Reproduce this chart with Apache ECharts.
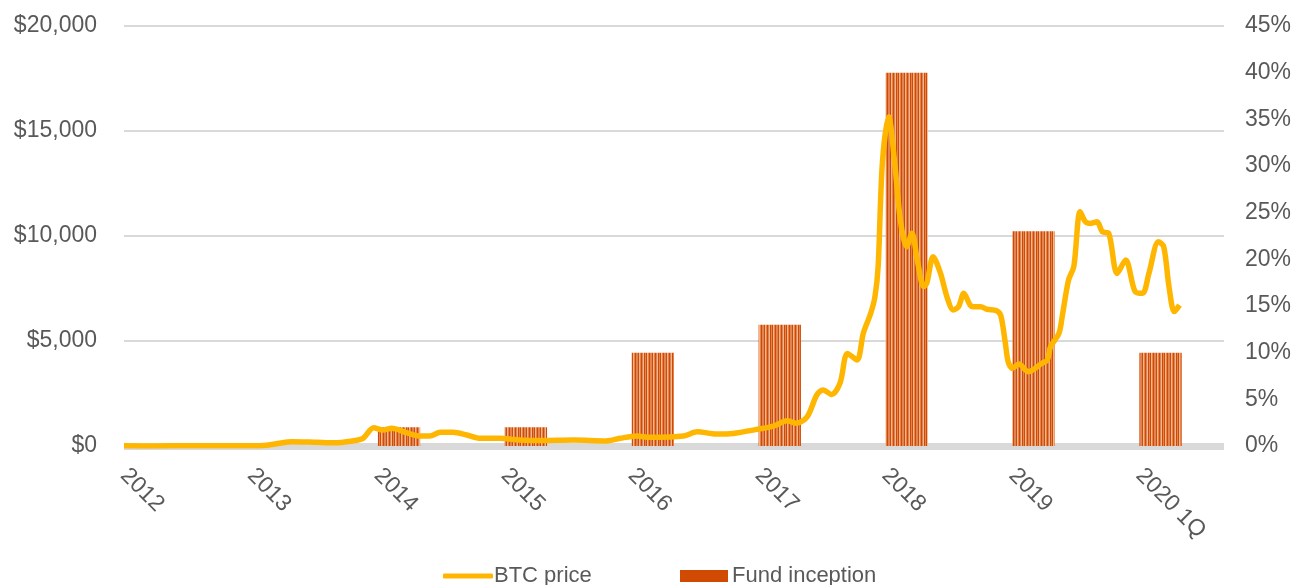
<!DOCTYPE html>
<html>
<head>
<meta charset="utf-8">
<script src="https://cdn.jsdelivr.net/npm/echarts@6/dist/echarts.min.js"></script>
<style>
html,body{margin:0;padding:0;background:#fff;}
#chart{width:1296px;height:585px;}
</style>
</head>
<body>
<div id="chart"></div>
<script>
// ---- data ----
// x labels (one per year tick)
var yearLabels = ['2012','2013','2014','2015','2016','2017','2018','2019','2020 1Q'];
// fund inception share (% of funds), one per year
var fundYears = [2012,2013,2014,2015,2016,2017,2018,2019,2020];
var fundShare = [0,0,2,2,10,13,40,23,10];
// BTC price: months since Jan 2012, price in USD
var btcMonth = [0,3,6,9,12,13.5,14.7,15.8,18.2,19.8,21.6,22.6,23.6,24.5,25.3,26.7,28,28.9,29.9,31.1,32.4,33.7,35.5,37.4,39.5,42.5,45.6,46.9,48.5,49.7,52.9,54.2,56,57.6,59.8,61.4,62.7,63.6,64.6,65.5,66.1,66.9,67.7,68.4,69.3,69.9,70.6,71,71.3,71.7,72.3,72.9,73.4,74,74.5,75,75.6,75.9,76.5,77.2,77.8,78.4,78.9,79.4,80,80.3,81,81.6,82.5,82.9,83.3,83.6,84,84.6,85.5,86.8,87.3,87.6,88.4,88.7,89.3,89.8,90.4,90.9,91.4,92,92.5,93.1,93.9,94.7,95.6,96.3,96.9,97.8,98.3,98.8,99.3,99.8];
var btcPrice = [6,5,10,12,14,40,130,205,175,150,240,365,870,760,840,635,475,475,650,650,525,365,365,285,260,285,240,365,475,415,475,680,570,600,790,950,1200,1080,1400,2430,2670,2450,3000,4410,4100,5370,6320,7110,8540,13460,15680,13300,10760,9490,10130,8860,7590,7750,9010,8220,7110,6480,6630,7270,6710,6630,6630,6510,6440,6200,5000,4000,3700,3900,3540,3940,4100,4730,5370,6160,7900,8540,11160,10680,10600,10680,10200,10130,8220,8860,7350,7270,8220,9730,9490,7590,6400,6710];

// ---- build ----
var lineData = btcMonth.map(function(m,i){ return [m, btcPrice[i]]; });
var barData = fundYears.map(function(y,i){ return [(y-2012)*12, fundShare[i]]; });

// striped fill pattern
var pc = document.createElement('canvas');
pc.width = 14; pc.height = 4;
var pctx = pc.getContext('2d');
var stripe = ['d','b','d','p','b','d','b','b','d','p','b','d','b','p'];
var stripeCol = {d:'#cf4a02', b:'#e3834f', p:'#f1b791'};
for (var i=0;i<stripe.length;i++){ pctx.fillStyle = stripeCol[stripe[i]]; pctx.fillRect(i,0,1,4); }
var pattern = {image: pc, repeat: 'repeat'};

var FONT = "'Liberation Sans', Arial, sans-serif";
var TXT = '#595959';

var chart = echarts.init(document.getElementById('chart'), null, {renderer:'canvas'});
chart.setOption({
  animation: false,
  backgroundColor: '#fff',
  textStyle: {fontFamily: FONT},
  grid: {left: 124, right: 72, top: 26, bottom: 139, containLabel: false},
  legend: [
    {left: 438, top: 560, itemWidth: 50, itemHeight: 5, itemGap: 0,
     data: [{name: 'BTC price', icon: 'roundRect', itemStyle: {color: '#FFB600'}}],
     textStyle: {fontFamily: FONT, fontSize: 22, color: TXT, padding: [0,0,0,-4]}},
    {left: 675, top: 560, itemWidth: 48, itemHeight: 12, itemGap: 0,
     data: [{name: 'Fund inception', icon: 'rect', itemStyle: {color: '#D04A02'}}],
     textStyle: {fontFamily: FONT, fontSize: 22, color: TXT, padding: [0,0,0,-1]}}
  ],
  xAxis: {
    type: 'value', min: 0, max: 104, interval: 12, offset: 3,
    axisLine: {show: true, lineStyle: {color: '#d9d9d9', width: 7, cap: 'butt'}},
    axisTick: {show: false},
    splitLine: {show: false},
    axisLabel: {
      rotate: -45, margin: 23, fontSize: 23, color: TXT, fontFamily: FONT,
      showMaxLabel: false,
      formatter: function(v){ var k = v/12; return (k === Math.round(k) && yearLabels[k]) ? yearLabels[k] : ''; }
    }
  },
  yAxis: [
    {type: 'value', min: 0, max: 20000, interval: 5000,
     axisLine: {show: false}, axisTick: {show: false},
     splitLine: {show: true, lineStyle: {color: '#d9d9d9', width: 2}},
     axisLabel: {margin: 27, fontSize: 23, color: TXT, fontFamily: FONT,
       formatter: function(v){ return '$' + v.toLocaleString('en-US'); }}},
    {type: 'value', min: 0, max: 45, interval: 5, position: 'right',
     axisLine: {show: false}, axisTick: {show: false}, splitLine: {show: false},
     axisLabel: {margin: 21, fontSize: 23, color: TXT, fontFamily: FONT, formatter: '{value}%'}}
  ],
  series: [
    {
      name: 'Fund inception', type: 'custom', yAxisIndex: 1, z: 2,
      data: barData,
      renderItem: function(params, api){
        var v = api.value(1);
        if (!v) return null;
        var p0 = api.coord([api.value(0), v]);
        var p1 = api.coord([api.value(0) + 4, 0]);
        return {type: 'rect', shape: {x: p0[0], y: p0[1], width: p1[0]-p0[0], height: p1[1]-p0[1]},
                style: {fill: pattern}};
      },
      itemStyle: {color: '#D04A02'},
      encode: {x: 0, y: 1}
    },
    {
      name: 'BTC price', type: 'line', yAxisIndex: 0, z: 3,
      data: lineData, symbol: 'none', smooth: 0.3,
      lineStyle: {color: '#FFB600', width: 5.5},
      itemStyle: {color: '#FFB600'}
    }
  ]
});
</script>
</body>
</html>
